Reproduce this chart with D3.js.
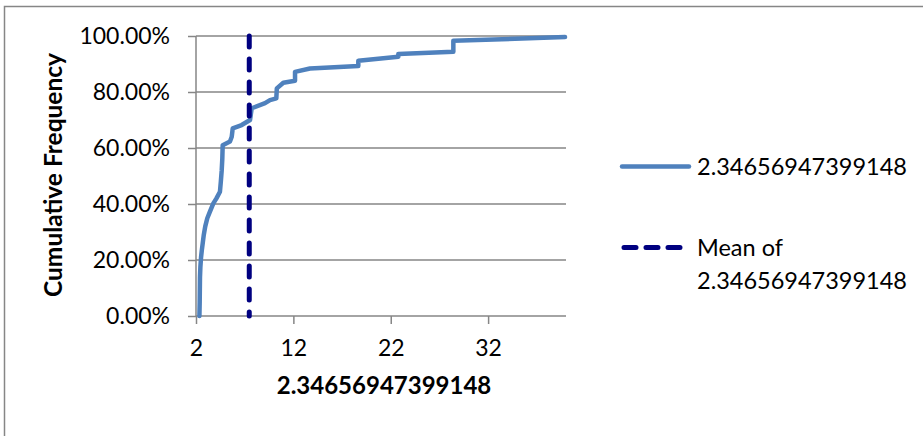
<!DOCTYPE html>
<html>
<head>
<meta charset="utf-8">
<script src="https://cdn.jsdelivr.net/npm/d3@7"></script>
<style>
  html, body { margin: 0; padding: 0; background: #fff; }
  svg { display: block; font-family: Lato, "Open Sans", sans-serif; }
</style>
</head>
<body>
<svg id="chart" width="923" height="436"></svg>
<script>
// Sorted sample values and their cumulative frequency (percent)
const sampleValues = [2.35, 2.38, 2.41, 2.45, 2.52, 2.60, 2.69, 2.80, 2.95, 3.16, 3.40, 3.78, 4.10, 4.46, 4.55, 4.64, 4.70, 4.74, 5.49, 5.67, 5.77, 6.69, 7.55, 7.72, 9.09, 9.60, 10.25, 10.30, 10.97, 12.17, 12.17, 13.70, 18.67, 18.67, 22.78, 22.78, 28.43, 28.43, 39.90];
const cumulativePct = [0.0, 5.0, 14.0, 17.5, 21.0, 23.6, 26.0, 29.0, 32.0, 34.9, 37.0, 40.2, 42.0, 44.4, 48.0, 52.0, 56.0, 61.0, 62.3, 64.0, 67.0, 68.2, 70.0, 74.2, 76.0, 77.1, 77.7, 81.3, 83.3, 84.0, 87.2, 88.4, 89.3, 91.2, 92.6, 93.6, 94.4, 98.3, 99.6];
const meanValue = 7.47;

const xTicks = [2, 12, 22, 32];
const yTicks = [0, 20, 40, 60, 80, 100];
const seriesName = "2.34656947399148";
const meanName = ["Mean of", "2.34656947399148"];
const yTitle = "Cumulative Frequency";

const svg = d3.select("#chart");
const plot = { left: 196, top: 36, right: 566, bottom: 316 };
const gridColor = "#868686";
const lineColor = "#4F81BD";
const meanColor = "#000080";

// outer chart frame (runs off the right and bottom edges)
svg.append("path")
  .attr("d", "M4.5,980V6.5H980")
  .attr("fill", "none").attr("stroke", gridColor).attr("stroke-width", 1.5);

const x = d3.scaleLinear().domain([2, 40]).range([plot.left, plot.right]);
const y = d3.scaleLinear().domain([0, 100]).range([plot.bottom, plot.top]);

// horizontal gridlines
svg.append("g").selectAll("line").data(yTicks.filter(d => d > 0)).join("line")
  .attr("x1", plot.left).attr("x2", plot.right)
  .attr("y1", d => y(d)).attr("y2", d => y(d))
  .attr("stroke", gridColor).attr("stroke-width", 1.5);

// y axis
const yAxis = svg.append("g").attr("transform", `translate(${plot.left},0)`)
  .call(d3.axisLeft(y).tickValues(yTicks).tickSize(8).tickPadding(18)
    .tickFormat(d => d3.format(".2f")(d) + "%"));
// x axis
const xAxis = svg.append("g").attr("transform", `translate(0,${plot.bottom})`)
  .call(d3.axisBottom(x).tickValues(xTicks).tickSize(8).tickPadding(16).tickFormat(d3.format("d")));

[yAxis, xAxis].forEach(g => {
  g.select(".domain").attr("stroke", gridColor).attr("stroke-width", 1.5);
  g.selectAll(".tick line").attr("stroke", gridColor).attr("stroke-width", 1.5);
  g.selectAll(".tick text").attr("fill", "#000").style("font-size", "23px")
    .style("font-family", "Lato, sans-serif");
});
// domain paths without the outer end ticks
yAxis.select(".domain").attr("d", `M0,${plot.bottom}V${plot.top}`);
xAxis.select(".domain").attr("d", `M${plot.left},0H${plot.right}`);

// cumulative frequency curve
const pts = sampleValues.map((v, i) => [v, cumulativePct[i]]);
svg.append("path")
  .datum(pts)
  .attr("d", d3.line().x(d => x(d[0])).y(d => y(d[1])))
  .attr("fill", "none").attr("stroke", lineColor).attr("stroke-width", 4.5)
  .attr("stroke-linejoin", "round").attr("stroke-linecap", "round");

// mean marker
svg.append("line")
  .attr("x1", x(meanValue)).attr("x2", x(meanValue))
  .attr("y1", y(100)).attr("y2", y(0))
  .attr("stroke", meanColor).attr("stroke-width", 5)
  .attr("stroke-dasharray", "11,12").attr("stroke-linecap", "round");

// axis titles
svg.append("text")
  .attr("x", (plot.left + plot.right) / 2 + 3).attr("y", 393.5)
  .attr("text-anchor", "middle").style("font-weight", "bold").style("font-size", "24px")
  .text(seriesName);
svg.append("text")
  .attr("transform", `translate(62,${(plot.top + plot.bottom) / 2 - 1}) rotate(-90)`)
  .attr("text-anchor", "middle").style("font-weight", "bold").style("font-size", "24.5px")
  .text(yTitle);

// legend
const lg = svg.append("g");
lg.append("line").attr("x1", 622).attr("x2", 689).attr("y1", 166.5).attr("y2", 166.5)
  .attr("stroke", lineColor).attr("stroke-width", 4.5).attr("stroke-linecap", "round");
lg.append("text").attr("x", 697).attr("y", 174.5).style("font-size", "23.5px").text(seriesName);
lg.append("line").attr("x1", 624).attr("x2", 682).attr("y1", 247.5).attr("y2", 247.5)
  .attr("stroke", meanColor).attr("stroke-width", 5)
  .attr("stroke-dasharray", "12,10").attr("stroke-linecap", "round");
lg.selectAll("text.mean").data(meanName).join("text").attr("class", "mean")
  .attr("x", 697).attr("y", (d, i) => 255.5 + i * 33)
  .style("font-size", "23.5px").text(d => d);
</script>
</body>
</html>
